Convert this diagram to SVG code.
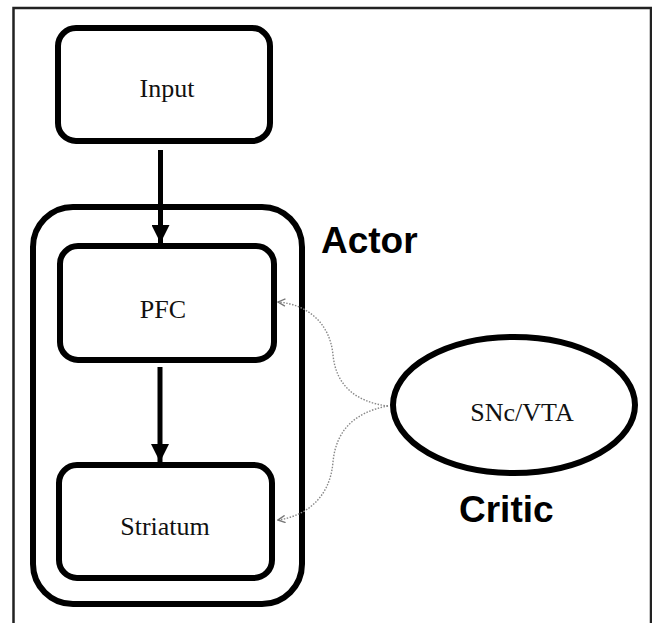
<svg xmlns="http://www.w3.org/2000/svg" width="652" height="623" viewBox="0 0 652 623">
  <style>
    .box { fill: #fff; stroke: #000; stroke-width: 6; }
    .lbl { font-family: "Liberation Serif", "Times New Roman", serif; font-size: 26px; fill: #111; text-anchor: middle; }
    .big { font-family: "Liberation Sans", Arial, sans-serif; font-weight: bold; font-size: 37px; fill: #000; }
    .solid { stroke: #000; stroke-width: 5; fill: none; }
    .dot { stroke: #888; stroke-width: 1.4; fill: none; stroke-dasharray: 1.5 1.5; }
  </style>
  <defs>
    <marker id="head" viewBox="0 0 10 10" refX="10" refY="5" markerWidth="18" markerHeight="18" markerUnits="userSpaceOnUse" orient="auto">
      <path d="M0,0 L10,5 L0,10 Z" fill="#000"/>
    </marker>
    <marker id="open" viewBox="0 0 10 10" refX="9" refY="5" markerWidth="9" markerHeight="9" markerUnits="userSpaceOnUse" orient="auto">
      <path d="M1,1 L9,5 L1,9" fill="none" stroke="#777" stroke-width="1.5"/>
    </marker>
  </defs>
  <rect width="652" height="623" fill="#fff"/>
  <path d="M13.5,623 L13.5,8 L651,8 L651,623" fill="none" stroke="#222" stroke-width="2.5"/>

  <g id="actor">
    <rect class="box" x="33" y="207" width="269" height="397" rx="40" ry="40"/>
    <text class="big" x="321" y="253">Actor</text>
  </g>
  <g id="input">
    <rect class="box" x="58" y="28" width="212" height="113" rx="18" ry="18"/>
    <text class="lbl" x="167" y="97">Input</text>
  </g>
  <g id="pfc">
    <rect class="box" x="60" y="246" width="214" height="114" rx="18" ry="18"/>
    <text class="lbl" x="163" y="318">PFC</text>
  </g>
  <g id="striatum">
    <rect class="box" x="59" y="465" width="213" height="113" rx="18" ry="18"/>
    <text class="lbl" x="165" y="535">Striatum</text>
  </g>
  <g id="critic">
    <ellipse class="box" cx="514" cy="405" rx="121" ry="68"/>
    <text class="lbl" x="522" y="421">SNc/VTA</text>
    <text class="big" x="459" y="522">Critic</text>
  </g>

  <g id="connectors">
    <path class="solid" d="M160.5,150 L160.5,243" marker-end="url(#head)"/>
    <path class="solid" d="M160,367 L160,462" marker-end="url(#head)"/>
    <path class="dot" d="M388,406 C355,402 336,385 333,355 C330,322 306,304 278,302" marker-end="url(#open)"/>
    <path class="dot" d="M388,406 C355,412 336,430 333,462 C330,498 306,516 278,520" marker-end="url(#open)"/>
  </g>
</svg>
